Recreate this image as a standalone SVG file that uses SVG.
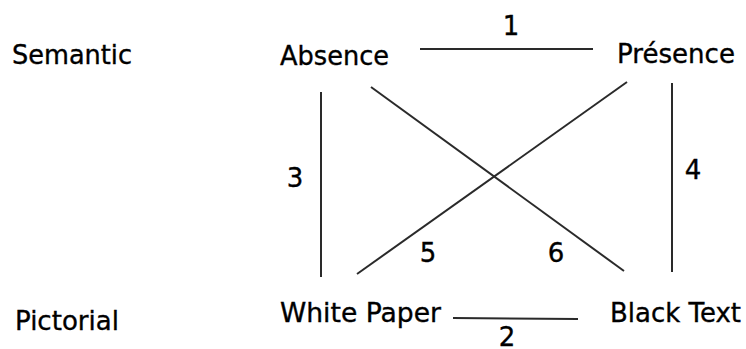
<svg xmlns="http://www.w3.org/2000/svg" width="746" height="349" viewBox="0 0 746 349">
<style>
text{font-family:"DejaVu Sans","Liberation Sans",sans-serif;font-size:26px;fill:#000;stroke:#000;stroke-width:0.35}
.n{text-anchor:middle}
.e{stroke:#2a2a2a;stroke-width:2;fill:none;stroke-linecap:butt}
</style>
<rect width="746" height="349" fill="#fff"/>
<g id="row-labels">
<text x="12" y="64" textLength="120" lengthAdjust="spacingAndGlyphs">Semantic</text>
<text x="15" y="330" textLength="104" lengthAdjust="spacingAndGlyphs">Pictorial</text>
</g>
<g id="absence"><text x="280" y="64.5" textLength="109" lengthAdjust="spacingAndGlyphs">Absence</text></g>
<g id="presence"><text x="617" y="63" textLength="118" lengthAdjust="spacingAndGlyphs">Présence</text></g>
<g id="white-paper"><text x="280" y="322" textLength="161" lengthAdjust="spacingAndGlyphs">White Paper</text></g>
<g id="black-text"><text x="610" y="322" textLength="131" lengthAdjust="spacingAndGlyphs">Black Text</text></g>
<g id="connectors">
<line class="e" x1="420" y1="49" x2="593" y2="49"/>
<line class="e" x1="453" y1="318" x2="578" y2="319"/>
<line class="e" x1="321" y1="92" x2="321" y2="277"/>
<line class="e" x1="672" y1="83" x2="672" y2="272"/>
<line class="e" x1="371" y1="87" x2="624" y2="271"/>
<line class="e" x1="627" y1="82" x2="357" y2="274"/>
<text class="n" x="511" y="35">1</text>
<text class="n" x="507" y="346">2</text>
<text class="n" x="295" y="187">3</text>
<text class="n" x="693" y="179">4</text>
<text class="n" x="428" y="262">5</text>
<text class="n" x="556" y="262">6</text>
</g>
</svg>
